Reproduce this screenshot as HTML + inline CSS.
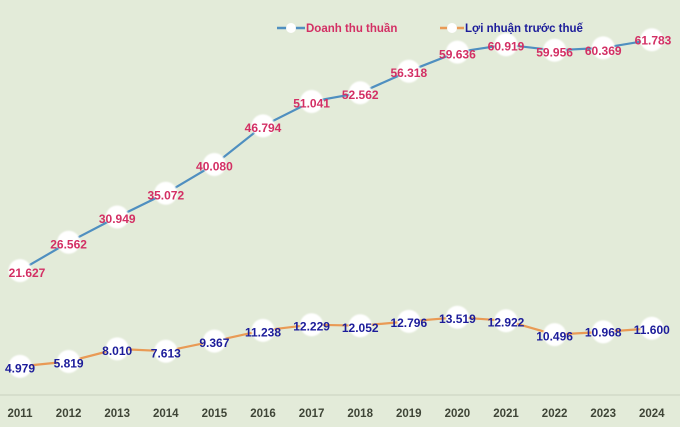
<!DOCTYPE html>
<html>
<head>
<meta charset="utf-8">
<style>
html,body{margin:0;padding:0;background:#e3ebd9;}
svg{display:block;}
text{font-family:"Liberation Sans","DejaVu Sans",sans-serif;font-weight:bold;}
</style>
</head>
<body>
<svg width="680" height="427" viewBox="0 0 680 427" xmlns="http://www.w3.org/2000/svg">
<defs>
<filter id="bl" x="-30%" y="-30%" width="160%" height="160%">
<feGaussianBlur stdDeviation="0.8"/>
</filter>
</defs>
<rect width="680" height="427" fill="#e3ebd9"/>
<line x1="0" y1="395" x2="680" y2="395" stroke="#d2d9c8" stroke-width="1.5"/>

<!-- Legend -->
<line x1="277" y1="28" x2="305" y2="28" stroke="#4f8fc0" stroke-width="2.5"/>
<circle cx="291" cy="28" r="5" fill="#ffffff"/>
<text x="306" y="32" font-size="11.5" fill="#d32f64">Doanh thu thuần</text>
<line x1="440" y1="28" x2="464" y2="28" stroke="#e99a55" stroke-width="2.5"/>
<circle cx="452" cy="28" r="5" fill="#ffffff"/>
<text x="465" y="32" font-size="11.5" fill="#1c1c9a">Lợi nhuận trước thuế</text>

<!-- Revenue line -->
<polyline fill="none" stroke="#4f8fc0" stroke-width="2.2" points="20,270.6 68.6,242.3 117.2,217.0 165.8,193.3 214.4,164.5 263,125.9 311.6,101.5 360.2,92.8 408.8,71.2 457.4,52.1 506,44.7 554.6,50.3 603.2,47.9 651.8,39.8"/>
<!-- Profit line -->
<polyline fill="none" stroke="#e99a55" stroke-width="2.2" points="20,366.4 68.6,361.5 117.2,348.9 165.8,351.2 214.4,341.1 263,330.4 311.6,324.7 360.2,325.7 408.8,321.4 457.4,317.3 506,320.7 554.6,334.6 603.2,331.9 651.8,328.3"/>

<g fill="#ffffff" filter="url(#bl)">
<circle cx="20" cy="270.6" r="11.5"/>
<circle cx="68.6" cy="242.3" r="11.5"/>
<circle cx="117.2" cy="217.0" r="11.5"/>
<circle cx="165.8" cy="193.3" r="11.5"/>
<circle cx="214.4" cy="164.5" r="11.5"/>
<circle cx="263" cy="125.9" r="11.5"/>
<circle cx="311.6" cy="101.5" r="11.5"/>
<circle cx="360.2" cy="92.8" r="11.5"/>
<circle cx="408.8" cy="71.2" r="11.5"/>
<circle cx="457.4" cy="52.1" r="11.5"/>
<circle cx="506" cy="44.7" r="11.5"/>
<circle cx="554.6" cy="50.3" r="11.5"/>
<circle cx="603.2" cy="47.9" r="11.5"/>
<circle cx="651.8" cy="39.8" r="11.5"/>
<circle cx="20" cy="366.4" r="11.5"/>
<circle cx="68.6" cy="361.5" r="11.5"/>
<circle cx="117.2" cy="348.9" r="11.5"/>
<circle cx="165.8" cy="351.2" r="11.5"/>
<circle cx="214.4" cy="341.1" r="11.5"/>
<circle cx="263" cy="330.4" r="11.5"/>
<circle cx="311.6" cy="324.7" r="11.5"/>
<circle cx="360.2" cy="325.7" r="11.5"/>
<circle cx="408.8" cy="321.4" r="11.5"/>
<circle cx="457.4" cy="317.3" r="11.5"/>
<circle cx="506" cy="320.7" r="11.5"/>
<circle cx="554.6" cy="334.6" r="11.5"/>
<circle cx="603.2" cy="331.9" r="11.5"/>
<circle cx="651.8" cy="328.3" r="11.5"/>
</g>

<!-- Revenue labels -->
<g font-size="12" fill="#d32f64" text-anchor="middle">
<text x="27" y="277">21.627</text>
<text x="68.6" y="248.5">26.562</text>
<text x="117.2" y="223">30.949</text>
<text x="165.8" y="199.5">35.072</text>
<text x="214.4" y="170.5">40.080</text>
<text x="263" y="132">46.794</text>
<text x="311.6" y="107.5">51.041</text>
<text x="360.2" y="99">52.562</text>
<text x="408.8" y="77">56.318</text>
<text x="457.4" y="58.5">59.636</text>
<text x="506" y="50.5">60.919</text>
<text x="554.6" y="56.5">59.956</text>
<text x="603.2" y="55">60.369</text>
<text x="653" y="44.5">61.783</text>
</g>

<!-- Profit labels -->
<g font-size="12" fill="#1c1c9a" text-anchor="middle">
<text x="20" y="372.5">4.979</text>
<text x="68.6" y="367.5">5.819</text>
<text x="117.2" y="355">8.010</text>
<text x="165.8" y="357.5">7.613</text>
<text x="214.4" y="347">9.367</text>
<text x="263" y="336.5">11.238</text>
<text x="311.6" y="330.5">12.229</text>
<text x="360.2" y="332">12.052</text>
<text x="408.8" y="327">12.796</text>
<text x="457.4" y="323">13.519</text>
<text x="506" y="326.5">12.922</text>
<text x="554.6" y="340.5">10.496</text>
<text x="603.2" y="336.5">10.968</text>
<text x="651.8" y="334">11.600</text>
</g>

<!-- Year labels -->
<g font-size="11.5" fill="#3f4537" text-anchor="middle">
<text x="20" y="417">2011</text>
<text x="68.6" y="417">2012</text>
<text x="117.2" y="417">2013</text>
<text x="165.8" y="417">2014</text>
<text x="214.4" y="417">2015</text>
<text x="263" y="417">2016</text>
<text x="311.6" y="417">2017</text>
<text x="360.2" y="417">2018</text>
<text x="408.8" y="417">2019</text>
<text x="457.4" y="417">2020</text>
<text x="506" y="417">2021</text>
<text x="554.6" y="417">2022</text>
<text x="603.2" y="417">2023</text>
<text x="651.8" y="417">2024</text>
</g>
</svg>
</body>
</html>
